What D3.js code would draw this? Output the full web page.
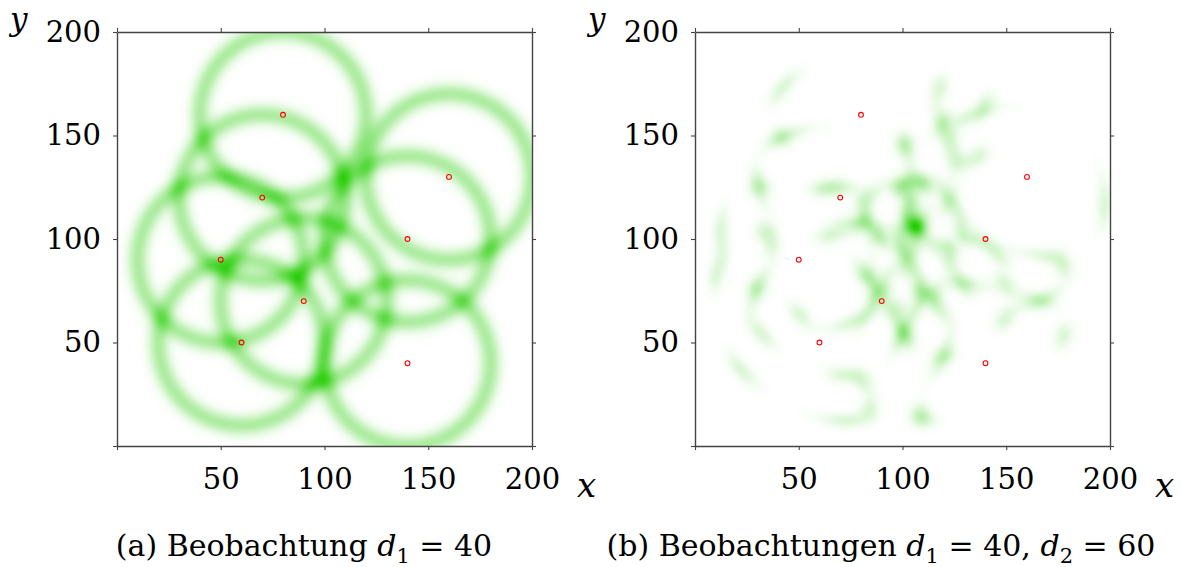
<!DOCTYPE html>
<html>
<head>
<meta charset="utf-8">
<script src="https://cdn.jsdelivr.net/npm/d3@7"></script>
<style>
  body { margin: 0; background: #fff; }
  text { font-family: "DejaVu Serif", serif; fill: #000; }
</style>
</head>
<body>
<div id="chart"></div>
<script>
// landmark positions (red circles)
const landmarkX = [80, 160, 70, 140, 50, 90, 60, 140]
const landmarkY = [160, 130, 120, 100, 90, 70, 50, 40]
// observed distances
const d1 = 40
const d2 = 60
const ticks = [0, 50, 100, 150, 200]
const tickLabels = ['', '50', '100', '150', '200']
const captions = ['(a) Beobachtung', '(b) Beobachtungen']

const SIGMA = 3.4
const GREEN = 'rgb(34,204,0)'

const svg = d3.select('#chart').append('svg')
    .attr('width', 1182)
    .attr('height', 567)

const TOP = 32, BOTTOM = 446

function ring(px, py, r) {
    let s = 0
    for (let i = 0; i < landmarkX.length; i++) {
        const d = Math.hypot(px - landmarkX[i], py - landmarkY[i])
        s += Math.exp(-(d - r) * (d - r) / (2 * SIGMA * SIGMA))
    }
    return s
}

// scale: null -> normalise by the panel max
function drawPanel(left, right, valueFn, scale) {
    const x = d3.scaleLinear().domain([0, 200]).range([left, right])
    const y = d3.scaleLinear().domain([0, 200]).range([BOTTOM, TOP])

    // heat map, one value per screen pixel
    const w = Math.round(right - left), h = Math.round(BOTTOM - TOP)
    const canvas = document.createElement('canvas')
    canvas.width = w
    canvas.height = h
    const ctx = canvas.getContext('2d')
    const img = ctx.createImageData(w, h)
    const vals = new Float32Array(w * h)
    let max = 0
    for (let j = 0; j < h; j++) {
        for (let i = 0; i < w; i++) {
            const v = valueFn(x.invert(left + i + 0.5), y.invert(TOP + j + 0.5))
            vals[j * w + i] = v
            if (v > max) max = v
        }
    }
    const top = scale || max
    const color = d3.interpolateRgb('white', GREEN)
    for (let k = 0; k < vals.length; k++) {
        const t = Math.min(1, vals[k] / top)
        const c = d3.rgb(color(t))
        img.data[k * 4] = c.r
        img.data[k * 4 + 1] = c.g
        img.data[k * 4 + 2] = c.b
        img.data[k * 4 + 3] = 255
    }
    ctx.putImageData(img, 0, 0)
    svg.append('image')
        .attr('x', left).attr('y', TOP)
        .attr('width', w).attr('height', h)
        .attr('href', canvas.toDataURL())

    svg.append('g').selectAll('circle')
        .data(landmarkX)
        .enter().append('circle')
        .attr('cx', d => x(d))
        .attr('cy', (d, i) => y(landmarkY[i]))
        .attr('r', 2.4)
        .attr('fill', 'none')
        .attr('stroke', '#ff0000')
        .attr('stroke-width', 1.1)

    const styleAxis = g => {
        g.select('.domain').attr('stroke', '#444').attr('stroke-width', 1.4)
        g.selectAll('.tick line').attr('stroke', '#444').attr('stroke-width', 1.1)
        g.selectAll('.tick text').attr('font-size', 29).attr('fill', '#000')
            .attr('font-family', '"DejaVu Serif", serif')
    }

    svg.append('g')
        .attr('transform', `translate(0, ${BOTTOM})`)
        .call(d3.axisBottom(x).tickValues(ticks).tickSize(4).tickPadding(18)
            .tickSizeOuter(0).tickFormat((d, i) => tickLabels[i]))
        .call(styleAxis)
    svg.append('g')
        .attr('transform', `translate(${left}, 0)`)
        .call(d3.axisLeft(y).tickValues(ticks).tickSize(4).tickPadding(12)
            .tickSizeOuter(0).tickFormat((d, i) => tickLabels[i]))
        .call(styleAxis)
    svg.append('g')
        .attr('transform', `translate(0, ${TOP})`)
        .call(d3.axisTop(x).tickValues(ticks).tickSize(4).tickSizeOuter(0).tickFormat(''))
        .call(styleAxis)
    svg.append('g')
        .attr('transform', `translate(${right}, 0)`)
        .call(d3.axisRight(y).tickValues(ticks).tickSize(4).tickSizeOuter(0).tickFormat(''))
        .call(styleAxis)

    svg.append('text')
        .attr('x', right + 45).attr('y', BOTTOM + 51)
        .attr('font-size', 34).attr('font-style', 'italic')
        .text('x')
    svg.append('text')
        .attr('x', left - 107).attr('y', TOP - 2)
        .attr('font-size', 31).attr('font-style', 'italic')
        .text('y')
}

drawPanel(117, 532, (px, py) => ring(px, py, d1), 2.7)
drawPanel(695, 1110, (px, py) => ring(px, py, d1) * ring(px, py, d2), null)

function caption(cx, label, parts) {
    const t = svg.append('text')
        .attr('x', cx).attr('y', 556)
        .attr('text-anchor', 'middle')
        .attr('font-size', 30)
    t.append('tspan').text(label + ' ')
    parts.forEach((p, i) => {
        if (i > 0) t.append('tspan').text(', ')
        t.append('tspan').attr('font-style', 'italic').text('d')
        t.append('tspan').attr('font-size', 21).attr('dy', 7).text(p[0])
        t.append('tspan').attr('dy', -7).text(' = ' + p[1])
    })
}
caption(304, captions[0], [['1', d1]])
caption(881, captions[1], [['1', d1], ['2', d2]])
</script>
</body>
</html>
